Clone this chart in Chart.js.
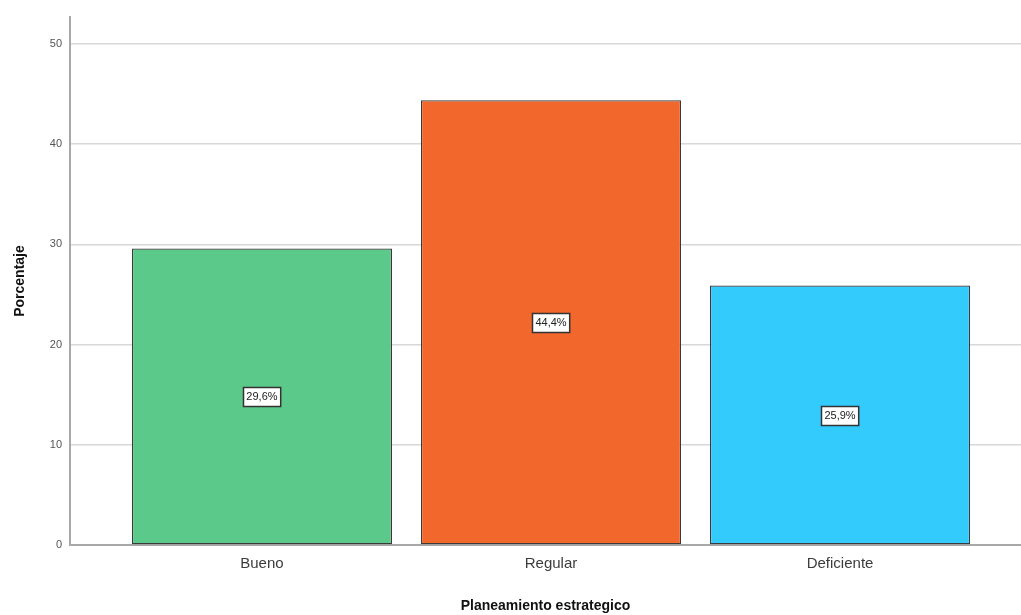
<!DOCTYPE html>
<html>
<head>
<meta charset="utf-8">
<script src="https://cdn.jsdelivr.net/npm/chart.js@4/dist/chart.umd.min.js"></script>
<style>
  html, body { margin: 0; padding: 0; background: #ffffff; }
  #wrap { width: 1021px; height: 615px; }
</style>
</head>
<body>
<div id="wrap"><canvas id="c" width="1021" height="615"></canvas></div>
<script>
const categories = ['Bueno', 'Regular', 'Deficiente'];
const percentages = [29.6, 44.4, 25.9];
const barColors = ['#5bc98a', '#f2672b', '#33cbfc'];
const yTicks = [0, 10, 20, 30, 40, 50];

// Percentage labels boxed at the middle of each bar
const boxedLabels = {
  id: 'boxedLabels',
  afterDatasetsDraw(chart) {
    const ctx = chart.ctx;
    const meta = chart.getDatasetMeta(0);
    ctx.save();
    ctx.font = '11px "Liberation Sans", Arial, sans-serif';
    ctx.textAlign = 'center';
    ctx.textBaseline = 'middle';
    meta.data.forEach((bar, i) => {
      const v = percentages[i];
      const txt = v.toFixed(1).replace('.', ',') + '%';
      const yMid = chart.scales.y.getPixelForValue(v / 2);
      const w = ctx.measureText(txt).width + 6;
      const h = 19;
      const x0 = Math.round(bar.x - w / 2) + 0.5;
      const y0 = Math.round(yMid - h / 2) + 0.5;
      ctx.fillStyle = '#ffffff';
      ctx.fillRect(x0, y0, w, h);
      ctx.strokeStyle = '#333333';
      ctx.lineWidth = 1.5;
      ctx.strokeRect(x0, y0, w, h);
      ctx.fillStyle = '#222222';
      ctx.fillText(txt, bar.x, yMid + 0.5);
    });
    ctx.restore();
  }
};

new Chart(document.getElementById('c'), {
  type: 'bar',
  data: {
    datasets: [{
      data: categories.map((c, i) => ({ x: i + 1, y: percentages[i] })),
      backgroundColor: barColors,
      borderColor: '#3a3a3a',
      borderWidth: 1.3,
      borderSkipped: false,
      barPercentage: 0.9,
      categoryPercentage: 1.0
    }]
  },
  options: {
    responsive: false,
    animation: false,
    layout: { padding: { top: 17, right: 0, left: 0, bottom: 0 } },
    plugins: { legend: { display: false }, tooltip: { enabled: false } },
    scales: {
      x: {
        type: 'linear',
        offset: false,
        min: 0.336,
        max: 3.626,
        afterBuildTicks(scale) {
          scale.ticks = categories.map((c, i) => ({ value: i + 1 }));
        },
        afterFit(scale) { scale.height = 70; },
        grid: { display: false, drawTicks: false },
        border: { display: true, color: '#a8a8a8', width: 2 },
        ticks: {
          autoSkip: false,
          maxRotation: 0,
          padding: 10,
          color: '#3c3c3c',
          font: { family: '"Liberation Sans", Arial, sans-serif', size: 15 },
          callback: (v) => categories[Math.round(v) - 1] || ''
        },
        title: {
          display: true,
          text: 'Planeamiento estrategico',
          color: '#111111',
          font: { family: '"Liberation Sans", Arial, sans-serif', size: 14, weight: 'bold' },
          padding: { top: 16, bottom: 0 }
        }
      },
      y: {
        min: 0,
        max: 52.7,
        afterBuildTicks(scale) {
          scale.ticks = yTicks.map(v => ({ value: v }));
        },
        afterFit(scale) { scale.width = 70; },
        grid: { color: '#d8d8d8', lineWidth: 1.5, drawTicks: false },
        border: { display: true, color: '#a8a8a8', width: 2 },
        ticks: {
          padding: 8,
          color: '#555555',
          font: { family: '"Liberation Sans", Arial, sans-serif', size: 11 }
        },
        title: {
          display: true,
          text: 'Porcentaje',
          color: '#111111',
          font: { family: '"Liberation Sans", Arial, sans-serif', size: 14, weight: 'bold' },
          padding: { top: 12, bottom: 0 }
        }
      }
    }
  },
  plugins: [boxedLabels]
});
</script>
</body>
</html>
